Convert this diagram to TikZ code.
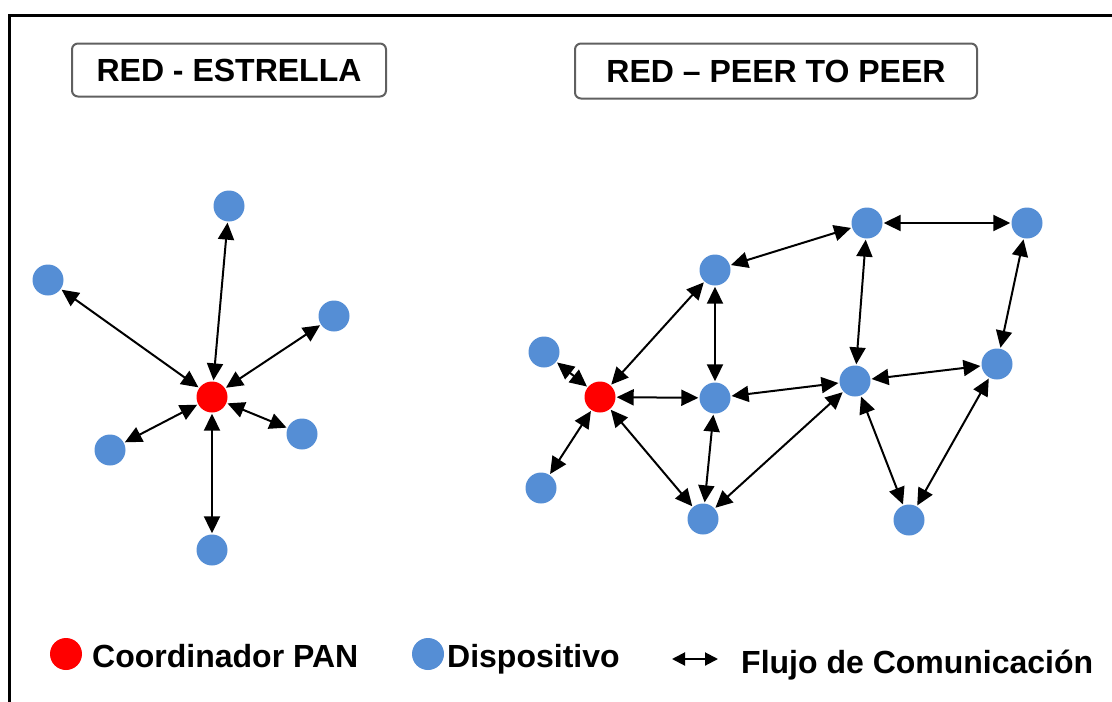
\documentclass[tikz,border=0pt]{standalone}
\usepackage{fontspec}
\setmainfont{Liberation Sans}
\usetikzlibrary{arrows.meta}
\definecolor{devblue}{HTML}{558ED5}
\definecolor{panred}{HTML}{FF0000}
\tikzset{
  dev/.style={circle, fill=devblue, minimum size=31pt, inner sep=0pt},
  pan/.style={circle, fill=panred, minimum size=31pt, inner sep=0pt},
  link/.style={line width=2pt, {Triangle[length=17pt,width=16pt]}-{Triangle[length=17pt,width=16pt]},
               shorten <=1pt, shorten >=1pt},
  titlebox/.style={draw=gray!75!black, line width=2pt, rounded corners=6pt,
                   font=\fontsize{32}{38}\selectfont\bfseries,
                   text height=23pt, text depth=0pt, inner sep=0pt},
  legendtext/.style={font=\fontsize{32}{38}\selectfont\bfseries, inner sep=0pt, anchor=base west}
}
\begin{document}
\begin{tikzpicture}[x=1pt, y=-1pt]
  \useasboundingbox (0,0) rectangle (1112,702);
  \clip (0,0) rectangle (1112,702);
  % outer frame (only its left and top edges fall on the page)
  \draw[line width=3.5pt] (9.5,15.5) rectangle (1140,730);

  % titles
  \node[titlebox, minimum width=314pt, minimum height=53pt] (t1) at (229,70) {RED - ESTRELLA};
  \node[titlebox, minimum width=402pt, minimum height=55pt] (t2) at (776,71) {RED – PEER TO PEER};

  % star network
  \node[pan] (sc) at (212,397) {};
  \node[dev] (s1) at (229,206) {};
  \node[dev] (s2) at (48,280) {};
  \node[dev] (s3) at (334,316) {};
  \node[dev] (s4) at (110,450) {};
  \node[dev] (s5) at (302,434) {};
  \node[dev] (s6) at (212,550) {};
  \foreach \n in {s1,s2,s3,s4,s5,s6}
    \draw[link] (sc) -- (\n);

  % peer-to-peer network
  \node[pan] (pc) at (600,397) {};
  \node[dev] (p1) at (544,352) {};
  \node[dev] (p2) at (541,488) {};
  \node[dev] (p3) at (715,270) {};
  \node[dev] (p4) at (715,398) {};
  \node[dev] (p5) at (703,519) {};
  \node[dev] (p6) at (867,223) {};
  \node[dev] (p7) at (1027,223) {};
  \node[dev] (p8) at (855,381) {};
  \node[dev] (p9) at (997,364) {};
  \node[dev] (p10) at (909,520) {};
  \foreach \a/\b in {pc/p1, pc/p2, pc/p3, pc/p4, pc/p5,
                     p3/p6, p3/p4, p6/p7, p6/p8, p7/p9,
                     p4/p8, p8/p9, p4/p5, p8/p5, p8/p10, p9/p10}
    \draw[link] (\a) -- (\b);

  % legend
  \node[pan, minimum size=32pt] (lpan) at (66,654) {};
  \node[legendtext] (lpant) at (92,667) {Coordinador PAN};
  \node[dev, minimum size=32pt] (ldev) at (428,654) {};
  \node[legendtext] (ldevt) at (447,667) {Dispositivo};
  \coordinate (la) at (672,659);
  \coordinate (lb) at (718,659);
  \draw[line width=2pt, {Triangle[length=13pt,width=13pt]}-{Triangle[length=13pt,width=13pt]}] (la) -- (lb);
  \node[legendtext] (lflow) at (741,673) {Flujo de Comunicación};
\end{tikzpicture}
\end{document}
